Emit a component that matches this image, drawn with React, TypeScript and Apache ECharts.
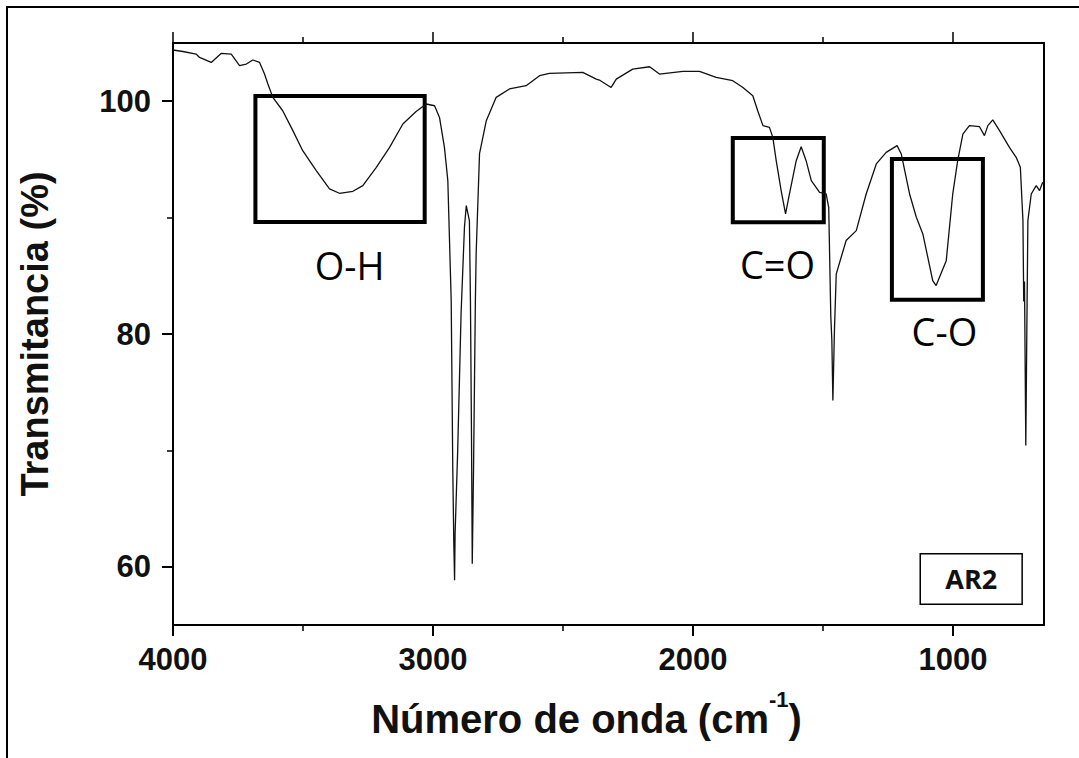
import React, { useEffect, useRef } from "react";
import * as echarts from "echarts";

// Spectrum (wavenumber cm-1, transmittance %)
const WAVENUMBER = [
  4000, 3962, 3911, 3898, 3853, 3815, 3776, 3744, 3718, 3693, 3667, 3648, 3635, 3616, 3578, 3539, 3501,
  3449, 3398, 3360, 3308, 3270, 3218, 3167, 3116, 3065, 3026, 2994, 2975, 2956, 2943, 2930, 2924, 2920,
  2917, 2915, 2905, 2892, 2879, 2872, 2860, 2856, 2852, 2849, 2844, 2837, 2834, 2821, 2795, 2757, 2706,
  2642, 2590, 2552, 2424, 2372, 2360, 2315, 2295, 2232, 2167, 2129, 2039, 1975, 1911, 1847, 1808, 1770,
  1751, 1731, 1706, 1693, 1680, 1661, 1644, 1629, 1603, 1584, 1565, 1545, 1513, 1488, 1478, 1470, 1466,
  1462, 1456, 1449, 1411, 1372, 1334, 1295, 1257, 1215, 1199, 1167, 1141, 1116, 1078, 1065, 1026, 1001,
  982, 962, 937, 898, 879, 866, 847, 821, 783, 757, 741, 731, 728, 725, 720, 716, 712, 699, 680, 667, 655,
];
const TRANSMITTANCE = [
  104.4, 104.27, 104.05, 103.76, 103.33, 104.1, 104.05, 103.05, 103.19, 103.54, 103.33, 102.33, 101.48,
  100.33, 99.18, 97.47, 95.75, 94.03, 92.46, 92.09, 92.26, 92.75, 94.32, 96.03, 98.04, 99.12, 99.76, 99.61,
  98.61, 96.03, 93.18, 82.88, 68.57, 62.0, 58.84, 62.87, 70.0, 81.76, 89.17, 91.03, 89.74, 82.9, 71.46,
  60.27, 68.57, 82.9, 86.9, 95.5, 98.33, 100.33, 101.05, 101.33, 102.19, 102.39, 102.47, 101.9, 101.82,
  101.18, 101.9, 102.76, 102.96, 102.33, 102.56, 102.56, 102.04, 101.76, 101.18, 100.47, 99.18, 97.9,
  97.75, 96.89, 94.89, 92.32, 90.32, 92.03, 94.89, 96.09, 94.89, 93.18, 92.17, 92.03, 90.88, 81.5, 79.5,
  74.29, 80.3, 85.17, 88.03, 88.88, 92.03, 94.61, 95.6, 96.18, 95.47, 92.03, 90.03, 88.6, 84.59, 84.16,
  86.3, 92.03, 94.89, 97.18, 97.9, 97.81, 97.04, 97.9, 98.39, 97.47, 96.03, 95.18, 94.32, 89.74, 82.8,
  84.5, 70.43, 80.3, 89.74, 92.03, 92.75, 92.32, 93.03,
];

const X_MIN = 650;
const X_MAX = 4000;
const Y_MIN = 55;
const Y_MAX = 105;
const X_MAJOR = [4000, 3000, 2000, 1000];
const X_MINOR = [3500, 2500, 1500];
const Y_MAJOR = [60, 80, 100];
const Y_MINOR = [70, 90];

// Highlighted bands: names, wavenumber ranges, transmittance ranges, label anchor
const BAND_NAMES = ["O-H", "C=O", "C-O"];
const BAND_WAVENUMBER = [
  [3683, 3032],
  [1847, 1497],
  [1235, 885],
];
const BAND_TRANSMITTANCE = [
  [100.45, 89.63],
  [96.84, 89.6],
  [95.04, 82.94],
];
const BAND_LABEL_AT = [
  [3321, 85.97],
  [1675, 86.05],
  [1033, 80.3],
];
const SAMPLE_NAME = "AR2";
const SAMPLE_BOX_WAVENUMBER = [1126, 734];
const SAMPLE_BOX_TRANSMITTANCE = [61.13, 56.78];

const SANS = "'Liberation Sans', Arial, sans-serif";
const CAL = "'Open Sans', 'Noto Sans', sans-serif";

export default function App() {
  const ref = useRef<HTMLDivElement>(null);

  useEffect(() => {
    if (!ref.current) return;
    const chart = echarts.init(ref.current, null, { renderer: "svg" });
    const data = WAVENUMBER.map((w, i) => [w, TRANSMITTANCE[i]]);

    const baseX = {
      type: "value" as const,
      min: X_MIN,
      max: X_MAX,
      inverse: true,
      splitLine: { show: false },
    };
    const baseY = {
      type: "value" as const,
      min: Y_MIN,
      max: Y_MAX,
      splitLine: { show: false },
    };
    const line = { show: true, onZero: false, lineStyle: { color: "#000", width: 2 } };

    const markAreas: any[] = BAND_NAMES.map((n, i) => [
      {
        name: n,
        coord: [BAND_WAVENUMBER[i][0], BAND_TRANSMITTANCE[i][0]],
        itemStyle: { color: "rgba(0,0,0,0)", borderColor: "#000", borderWidth: 4 },
        label: { show: false },
      },
      { coord: [BAND_WAVENUMBER[i][1], BAND_TRANSMITTANCE[i][1]] },
    ]);
    markAreas.push([
      {
        name: SAMPLE_NAME,
        coord: [SAMPLE_BOX_WAVENUMBER[0], SAMPLE_BOX_TRANSMITTANCE[0]],
        itemStyle: { color: "#fff", borderColor: "#000", borderWidth: 1.5 },
        label: {
          show: true,
          position: "inside",
          formatter: SAMPLE_NAME,
          fontFamily: CAL,
          fontWeight: "bold",
          fontSize: 27,
          color: "#111",
        },
      },
      { coord: [SAMPLE_BOX_WAVENUMBER[1], SAMPLE_BOX_TRANSMITTANCE[1]] },
    ]);

    chart.setOption({
      animation: false,
      backgroundColor: "#fff",
      grid: {
        left: 173,
        top: 43,
        width: 871,
        height: 582,
        containLabel: false,
        outerBoundsMode: "none",
      },
      graphic: [
        {
          type: "rect",
          z: -10,
          silent: true,
          shape: { x: 7, y: 7, width: 1200, height: 900 },
          style: { fill: "none", stroke: "#000", lineWidth: 2 },
        },
      ],
      xAxis: [
        {
          ...baseX,
          position: "bottom",
          axisLine: line,
          axisTick: { show: true, length: 11, customValues: X_MAJOR, lineStyle: { color: "#000", width: 2 } },
          axisLabel: {
            show: true,
            customValues: X_MAJOR,
            margin: 19,
            formatter: (v: number) => String(v),
            fontFamily: SANS,
            fontWeight: "bold",
            fontSize: 31,
            color: "#111",
          },
          name: "{b|Número de onda (cm}{sup|-1}{b|)}",
          nameLocation: "middle",
          nameGap: 63,
          nameTextStyle: {
            fontFamily: SANS,
            fontWeight: "bold",
            fontSize: 40,
            color: "#111",
            padding: [0, 44, 0, 0],
            rich: {
              b: {
                fontFamily: SANS,
                fontWeight: "bold",
                fontSize: 40,
                lineHeight: 51,
                verticalAlign: "bottom",
                color: "#111",
              },
              sup: {
                fontFamily: SANS,
                fontWeight: "bold",
                fontSize: 22,
                lineHeight: 22,
                verticalAlign: "top",
                color: "#111",
              },
            },
          },
        },
        {
          ...baseX,
          position: "bottom",
          axisLine: { show: false },
          axisTick: { show: true, length: 6, customValues: X_MINOR, lineStyle: { color: "#000", width: 1.5 } },
          axisLabel: { show: false },
        },
        {
          ...baseX,
          position: "top",
          axisLine: line,
          axisTick: { show: true, length: 11, customValues: X_MAJOR, lineStyle: { color: "#000", width: 1.5 } },
          axisLabel: { show: false },
        },
        {
          ...baseX,
          position: "top",
          axisLine: { show: false },
          axisTick: { show: true, length: 6, customValues: X_MINOR, lineStyle: { color: "#000", width: 1.5 } },
          axisLabel: { show: false },
        },
      ],
      yAxis: [
        {
          ...baseY,
          position: "left",
          axisLine: line,
          axisTick: { show: true, length: 11, customValues: Y_MAJOR, lineStyle: { color: "#000", width: 2 } },
          axisLabel: {
            show: true,
            customValues: Y_MAJOR,
            margin: 22,
            fontFamily: SANS,
            fontWeight: "bold",
            fontSize: 31,
            color: "#111",
          },
          name: "Transmitancia (%)",
          nameLocation: "middle",
          nameRotate: 90,
          nameGap: 119,
          nameTextStyle: { fontFamily: SANS, fontWeight: "bold", fontSize: 38, color: "#111" },
        },
        {
          ...baseY,
          position: "left",
          axisLine: { show: false },
          axisTick: { show: true, length: 6, customValues: Y_MINOR, lineStyle: { color: "#000", width: 1.5 } },
          axisLabel: { show: false },
        },
        {
          ...baseY,
          position: "right",
          axisLine: line,
          axisTick: { show: false },
          axisLabel: { show: false },
        },
      ],
      series: [
        {
          type: "line",
          xAxisIndex: 0,
          yAxisIndex: 0,
          data,
          showSymbol: false,
          symbol: "none",
          lineStyle: { color: "#111", width: 1.3 },
          silent: true,
          markArea: { silent: true, data: markAreas },
          markPoint: {
            silent: true,
            symbol: "rect",
            symbolSize: 1,
            itemStyle: { color: "rgba(0,0,0,0)" },
            data: BAND_NAMES.map((n, i) => ({
              name: n,
              coord: BAND_LABEL_AT[i],
              label: {
                show: true,
                position: "inside",
                formatter: n,
                fontFamily: CAL,
                fontSize: 38,
                color: "#000",
              },
            })),
          },
        },
      ],
    });

    return () => chart.dispose();
  }, []);

  return (
    <div
      ref={ref}
      style={{ position: "absolute", left: 0, top: 0, width: 1079, height: 758, background: "#fff" }}
    />
  );
}
